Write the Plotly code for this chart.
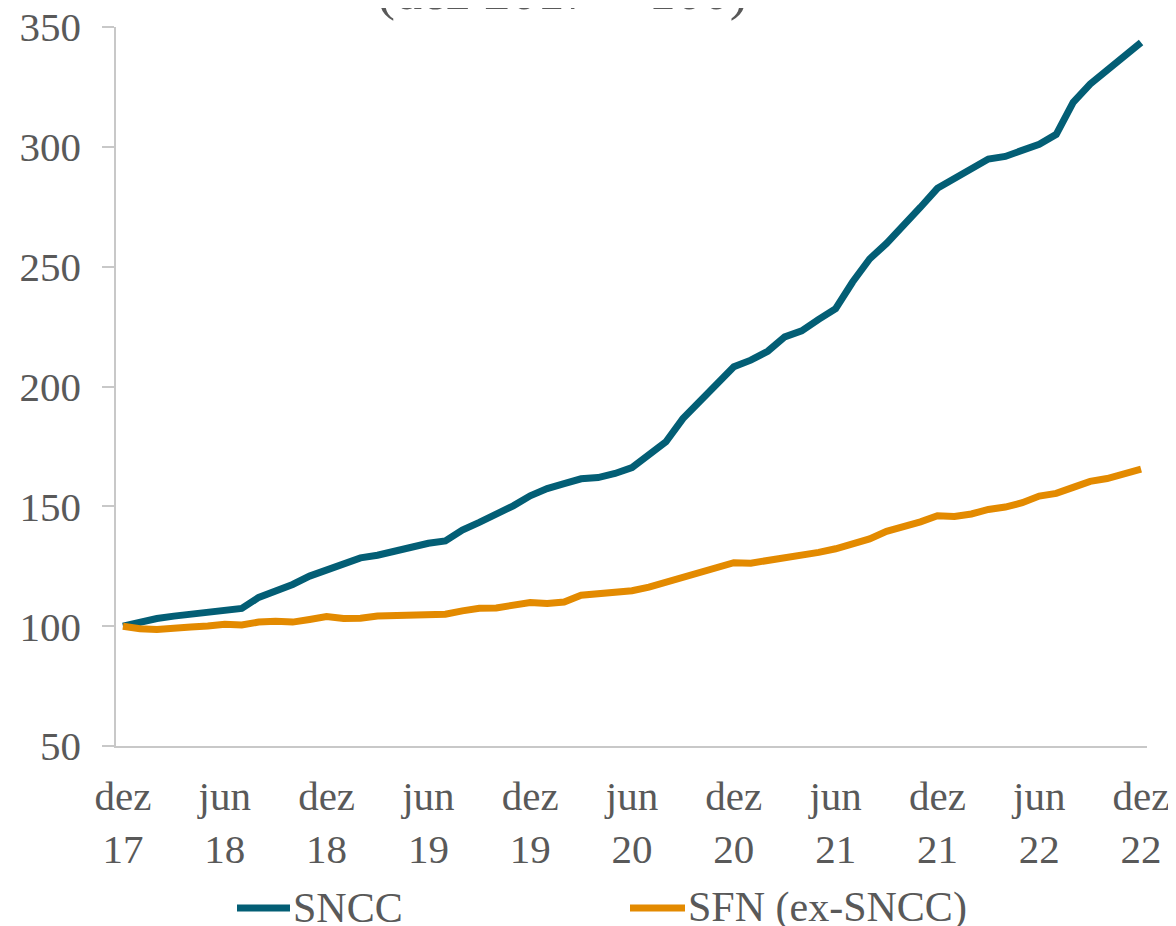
import plotly.graph_objects as go

# Monthly index, Dec 2017 = 100 (dez 17 .. dez 22)
sncc = [100.0, 101.8, 103.2, 104.2, 104.9, 105.6, 106.4, 107.4, 112.0, 114.7,
        117.4, 120.9, 123.6, 126.2, 128.5, 129.6, 131.4, 133.5, 134.6, 135.6,
        140.1, 143.3, 146.6, 150.2, 154.4, 157.4, 159.5, 161.5, 162.0, 163.7,
        166.2, 171.3, 176.9, 186.6, 193.6, 201.5, 208.2, 211.0, 214.7, 220.7,
        223.2, 228.0, 232.5, 243.6, 253.2, 259.7, 266.9, 274.8, 282.7, 287.0,
        290.6, 294.9, 296.0, 298.2, 301.1, 305.2, 318.6, 326.2, 331.9, 336.9,
        343.5]
sfn = [100.0, 98.9, 98.6, 99.4, 99.7, 100.1, 100.8, 100.5, 101.7, 102.0,
       101.7, 102.8, 104.0, 103.2, 103.3, 104.2, 104.5, 105.0, 105.1, 105.0,
       106.4, 107.5, 107.6, 108.6, 109.9, 109.5, 110.1, 112.9, 113.3, 113.9,
       114.8, 116.3, 118.3, 120.5, 122.4, 124.8, 126.5, 126.3, 127.3, 128.9,
       129.5, 130.8, 132.3, 134.0, 136.4, 139.6, 141.5, 143.5, 146.1, 145.8,
       146.8, 148.7, 149.7, 151.5, 154.3, 155.4, 157.9, 160.4, 161.6, 163.6,
       165.5]
tick_months = [0, 6, 12, 18, 24, 30, 36, 42, 48, 54, 60]
tick_labels = ["dez<br>17", "jun<br>18", "dez<br>18", "jun<br>19", "dez<br>19",
               "jun<br>20", "dez<br>20", "jun<br>21", "dez<br>21", "jun<br>22",
               "dez<br>22"]
y_ticks = [50, 100, 150, 200, 250, 300, 350]
series_names = ["SNCC", "SFN (ex-SNCC)"]
series_colors = ["#035E75", "#E38A00"]
title_text = "(dez 2017 = 100)"

FONT = "Liberation Serif, Times New Roman, serif"
GRAY = "#595959"
AXIS = "#C8C8C8"

x = list(range(len(sncc)))
fig = go.Figure()
for name, ys, col in zip(series_names, [sncc, sfn], series_colors):
    fig.add_trace(go.Scatter(x=x, y=ys, mode="lines", name=name,
                             line=dict(color=col, width=7), showlegend=False))

# the page body has an 8px margin, so the figure is 8px smaller
OFF = 8
W, H = 1176 - OFF, 926 - OFF
L, R, T, B = 116 - OFF, 29, 27 - OFF, 180
pw, ph = W - L - R, H - T - B

def px_x(p):
    return (p - OFF - L) / pw

def px_y(p):
    return (H - B - (p - OFF)) / ph

# custom legend (line sample + label)
legend_pos = [(237, 290), (630, 685)]
leg_y = 908
for (x0, x1), name, col in zip(legend_pos, series_names, series_colors):
    fig.add_shape(type="line", xref="paper", yref="paper",
                  x0=px_x(x0), x1=px_x(x1), y0=px_y(leg_y), y1=px_y(leg_y),
                  line=dict(color=col, width=7))
    fig.add_annotation(xref="paper", yref="paper", x=px_x(x1 + 1), y=px_y(leg_y),
                       xanchor="left", yanchor="middle", text=name, showarrow=False,
                       font=dict(family=FONT, size=42, color=GRAY))

# clipped title fragment at the very top
fig.add_annotation(xref="paper", yref="paper", x=px_x(562), y=px_y(23),
                   xanchor="center", yanchor="bottom", text=title_text, showarrow=False,
                   font=dict(family=FONT, size=54, color=GRAY))

fig.update_layout(
    width=W, height=H,
    margin=dict(l=L, r=R, t=T, b=B, pad=0, autoexpand=False),
    paper_bgcolor="white", plot_bgcolor="white",
    font=dict(family=FONT, size=41, color=GRAY),
)
fig.update_xaxes(range=[-0.41, 60.35], tickmode="array", tickvals=tick_months,
                 ticktext=tick_labels, showgrid=False, zeroline=False, automargin=False,
                 showline=True, linecolor=AXIS, linewidth=1.5, ticks="",
                 ticklabeloverflow="allow",
                 ticklabelstandoff=13, tickfont=dict(family=FONT, size=41, color=GRAY))
fig.update_yaxes(range=[50, 350], tickmode="array", tickvals=y_ticks,
                 showgrid=False, zeroline=False, showline=True, linecolor=AXIS, automargin=False,
                 linewidth=1.5, ticks="outside", ticklen=12, tickcolor=AXIS, tickwidth=1.5,
                 ticklabeloverflow="allow",
                 ticklabelstandoff=13, tickfont=dict(family=FONT, size=41, color=GRAY))

fig.write_html("out.html")
